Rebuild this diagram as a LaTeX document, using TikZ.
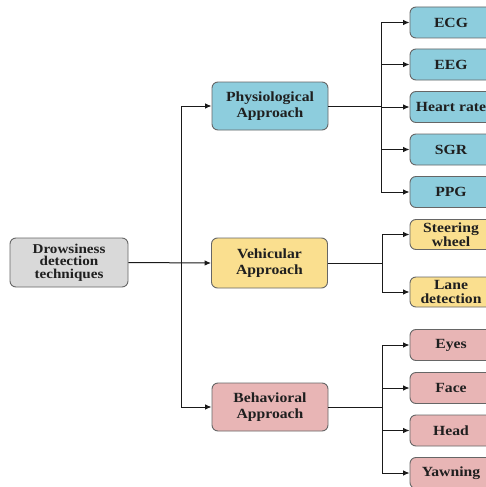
\documentclass[tikz,border=0pt]{standalone}
\usepackage{fontspec}
\setmainfont{Liberation Serif}[FakeStretch=1.12]
\usetikzlibrary{arrows.meta,calc}
\definecolor{bluef}{HTML}{8DCDDD}
\definecolor{yelf}{HTML}{FADF8F}
\definecolor{pinkf}{HTML}{E8B5B5}
\definecolor{grayf}{HTML}{D9D9D9}
\definecolor{bord}{HTML}{666666}
\definecolor{txt}{HTML}{1F1F1F}
\definecolor{ln}{HTML}{1A1A1A}
\tikzset{
  box/.style={draw=bord, line width=0.9pt, rounded corners=6pt, align=center, inner sep=0pt, text=txt, font=\bfseries\fontsize{14}{15.5}\selectfont},
  rootbox/.style={box, fill=grayf, minimum width=118pt, minimum height=49pt, font=\bfseries\fontsize{13.5}{12.5}\selectfont},
  midbox/.style={box, minimum width=116pt, minimum height=48pt},
  leaf/.style={box, minimum width=82pt, minimum height=31pt, font=\bfseries\fontsize{14}{13.5}\selectfont},
  conn/.style={draw=ln, line width=1pt},
  arr/.style={conn, -{Latex[length=6.5pt,width=5.5pt]}}
}
\begin{document}
\begin{tikzpicture}[x=1pt,y=-1pt]
\useasboundingbox (0,0) rectangle (486,487);
\clip (0,0) rectangle (486,487);
\fill[white] (0,0) rectangle (486,487);

\node[rootbox] (root) at (69,262.5) {Drowsiness\\detection\\techniques};
\node[midbox, fill=bluef] (phys) at (270,106) {Physiological\\Approach};
\node[midbox, fill=yelf, minimum height=50pt] (veh) at (269.5,263) {Vehicular\\Approach};
\node[midbox, fill=pinkf] (beh) at (270,407) {Behavioral\\Approach};

\node[leaf, fill=bluef] (ecg) at (451,22.5) {ECG};
\node[leaf, fill=bluef] (eeg) at (451,64.5) {EEG};
\node[leaf, fill=bluef] (hr) at (451,107) {Heart rate};
\node[leaf, fill=bluef] (sgr) at (451,149.5) {SGR};
\node[leaf, fill=bluef] (ppg) at (451,192) {PPG};

\node[leaf, fill=yelf, minimum height=30pt] (steer) at (451,234.5) {Steering\\wheel};
\node[leaf, fill=yelf, minimum height=30pt] (lane) at (451,292) {Lane\\detection};

\node[leaf, fill=pinkf] (eyes) at (451,345) {Eyes};
\node[leaf, fill=pinkf] (face) at (451,388) {Face};
\node[leaf, fill=pinkf] (head) at (451,430.5) {Head};
\node[leaf, fill=pinkf] (yawn) at (451,473) {Yawning};

% trunk
\coordinate (t) at (181,263);
\draw[arr] (root.east) -- (veh.west);
\draw[arr] (t) |- (phys.west);
\draw[arr] (t) |- (beh.west);

% physiological bus
\coordinate (pb) at (381,106);
\draw[conn] (phys.east) -- (pb);
\foreach \n in {ecg,eeg,hr,sgr,ppg} \draw[arr] (pb) |- (\n.west);

% vehicular bus
\coordinate (vb) at (382,263);
\draw[conn] (veh.east) -- (vb);
\foreach \n in {steer,lane} \draw[arr] (vb) |- (\n.west);

% behavioral bus
\coordinate (bb) at (382,407);
\draw[conn] (beh.east) -- (bb);
\foreach \n in {eyes,face,head,yawn} \draw[arr] (bb) |- (\n.west);
\end{tikzpicture}
\end{document}
